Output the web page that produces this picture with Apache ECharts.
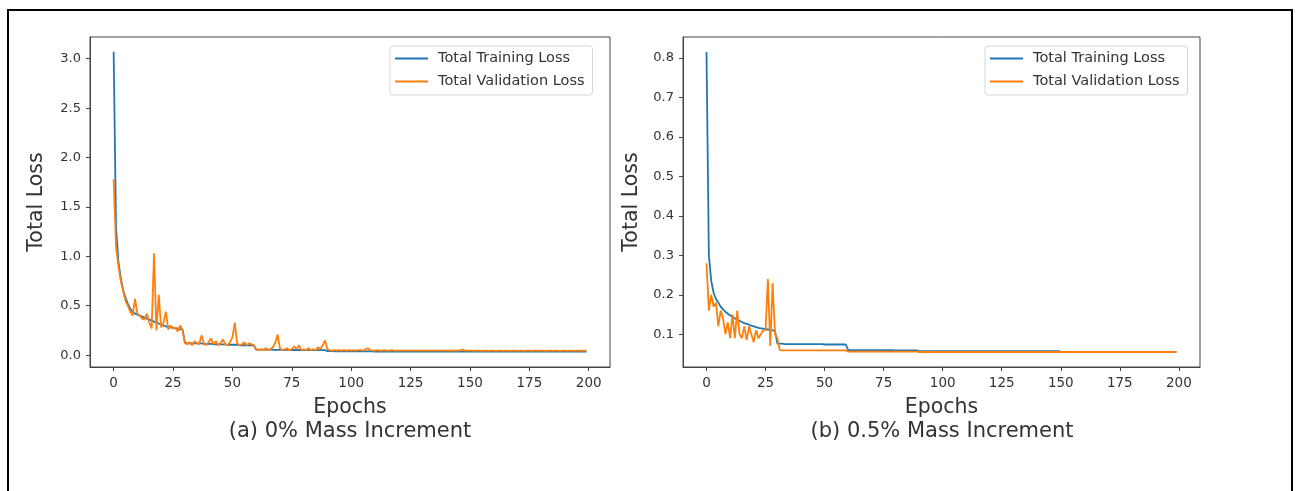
<!DOCTYPE html>
<html>
<head>
<meta charset="utf-8">
<script src="https://cdn.jsdelivr.net/npm/echarts@6.0.0/dist/echarts.min.js"></script>
<style>
  html, body { margin: 0; padding: 0; background: #fff; }
  #chart { width: 1301px; height: 491px; }
</style>
</head>
<body>
<div id="chart"></div>
<script>
// tick labels
const epochTicks = [0, 25, 50, 75, 100, 125, 150, 175, 200];
const lossTicksA = [0.0, 0.5, 1.0, 1.5, 2.0, 2.5, 3.0];
const lossTicksB = [0.1, 0.2, 0.3, 0.4, 0.5, 0.6, 0.7, 0.8];

// (a) 0% mass increment, one value per epoch 0..199
const trainLossA = [
  3.07, 1.30, 0.95, 0.78, 0.66, 0.58, 0.52, 0.47, 0.44, 0.42,
  0.41, 0.40, 0.39, 0.38, 0.37, 0.36, 0.35, 0.34, 0.33, 0.32,
  0.31, 0.30, 0.29, 0.29, 0.28, 0.28, 0.27, 0.27, 0.26, 0.26,
  0.13, 0.12, 0.12, 0.12, 0.12, 0.12, 0.12, 0.12, 0.115, 0.115,
  0.115, 0.115, 0.11, 0.11, 0.11, 0.11, 0.11, 0.11, 0.105, 0.105,
  0.105, 0.105, 0.105, 0.10, 0.10, 0.10, 0.10, 0.10, 0.10, 0.10,
  0.055, 0.055, 0.055, 0.055, 0.055, 0.055, 0.055, 0.054, 0.054, 0.054,
  0.054, 0.053, 0.053, 0.053, 0.053, 0.052, 0.052, 0.052, 0.052, 0.052,
  0.051, 0.051, 0.051, 0.051, 0.050, 0.050, 0.050, 0.050, 0.050, 0.050,
  0.040, 0.040, 0.040, 0.039, 0.039, 0.039, 0.039, 0.039, 0.038, 0.038,
  0.038, 0.038, 0.038, 0.038, 0.038, 0.038, 0.038, 0.038, 0.038, 0.038,
  0.037, 0.037, 0.037, 0.037, 0.037, 0.037, 0.037, 0.037, 0.037, 0.037,
  0.037, 0.037, 0.037, 0.037, 0.037, 0.037, 0.037, 0.037, 0.037, 0.037,
  0.036, 0.036, 0.036, 0.036, 0.036, 0.036, 0.036, 0.036, 0.036, 0.036,
  0.036, 0.036, 0.036, 0.036, 0.036, 0.036, 0.036, 0.036, 0.036, 0.036,
  0.036, 0.036, 0.036, 0.036, 0.036, 0.036, 0.036, 0.036, 0.036, 0.036,
  0.035, 0.035, 0.035, 0.035, 0.035, 0.035, 0.035, 0.035, 0.035, 0.035,
  0.035, 0.035, 0.035, 0.035, 0.035, 0.035, 0.035, 0.035, 0.035, 0.035,
  0.035, 0.035, 0.035, 0.035, 0.035, 0.035, 0.035, 0.035, 0.035, 0.035,
  0.035, 0.035, 0.035, 0.035, 0.035, 0.035, 0.035, 0.035, 0.035, 0.035
];
const valLossA = [
  1.78, 1.10, 0.90, 0.75, 0.65, 0.55, 0.50, 0.44, 0.40, 0.57,
  0.42, 0.40, 0.37, 0.36, 0.42, 0.33, 0.27, 1.03, 0.25, 0.61,
  0.28, 0.33, 0.44, 0.26, 0.30, 0.27, 0.28, 0.24, 0.30, 0.25,
  0.12, 0.11, 0.13, 0.10, 0.14, 0.12, 0.11, 0.20, 0.12, 0.10,
  0.13, 0.17, 0.11, 0.14, 0.10, 0.12, 0.16, 0.11, 0.10, 0.13,
  0.18, 0.33, 0.12, 0.10, 0.11, 0.13, 0.10, 0.12, 0.11, 0.10,
  0.06, 0.05, 0.06, 0.05, 0.07, 0.05, 0.06, 0.08, 0.12, 0.21,
  0.07, 0.05, 0.06, 0.07, 0.05, 0.06, 0.09, 0.06, 0.10, 0.05,
  0.06, 0.05, 0.07, 0.05, 0.06, 0.05, 0.08, 0.06, 0.10, 0.15,
  0.06, 0.05, 0.045, 0.05, 0.045, 0.05, 0.045, 0.05, 0.045, 0.05,
  0.045, 0.05, 0.045, 0.05, 0.05, 0.045, 0.06, 0.07, 0.05, 0.045,
  0.045, 0.05, 0.045, 0.045, 0.05, 0.045, 0.045, 0.05, 0.045, 0.045,
  0.045, 0.045, 0.046, 0.045, 0.045, 0.046, 0.045, 0.045, 0.046, 0.045,
  0.045, 0.046, 0.045, 0.045, 0.046, 0.045, 0.045, 0.046, 0.045, 0.045,
  0.045, 0.045, 0.046, 0.045, 0.046, 0.045, 0.05, 0.055, 0.046, 0.045,
  0.045, 0.045, 0.044, 0.045, 0.045, 0.044, 0.045, 0.045, 0.044, 0.045,
  0.045, 0.044, 0.045, 0.045, 0.044, 0.045, 0.045, 0.044, 0.045, 0.045,
  0.044, 0.045, 0.045, 0.044, 0.045, 0.045, 0.044, 0.045, 0.045, 0.044,
  0.045, 0.045, 0.044, 0.045, 0.045, 0.044, 0.045, 0.045, 0.044, 0.045,
  0.045, 0.044, 0.045, 0.045, 0.044, 0.045, 0.045, 0.044, 0.045, 0.045
];

// (b) 0.5% mass increment, one value per epoch 0..199
const trainLossB = [
  0.815, 0.30, 0.235, 0.205, 0.19, 0.18, 0.17, 0.163, 0.157, 0.152,
  0.148, 0.144, 0.14, 0.137, 0.134, 0.131, 0.128, 0.126, 0.124, 0.122,
  0.12, 0.118, 0.116, 0.115, 0.114, 0.113, 0.112, 0.111, 0.110, 0.109,
  0.076, 0.076, 0.076, 0.075, 0.075, 0.075, 0.075, 0.075, 0.075, 0.075,
  0.075, 0.075, 0.075, 0.075, 0.075, 0.075, 0.075, 0.075, 0.075, 0.075,
  0.074, 0.074, 0.074, 0.074, 0.074, 0.074, 0.074, 0.074, 0.074, 0.074,
  0.06, 0.06, 0.06, 0.06, 0.06, 0.06, 0.06, 0.06, 0.06, 0.06,
  0.06, 0.06, 0.06, 0.06, 0.06, 0.06, 0.06, 0.06, 0.06, 0.06,
  0.059, 0.059, 0.059, 0.059, 0.059, 0.059, 0.059, 0.059, 0.059, 0.059,
  0.057, 0.057, 0.057, 0.057, 0.057, 0.057, 0.057, 0.057, 0.057, 0.057,
  0.057, 0.057, 0.057, 0.057, 0.057, 0.057, 0.057, 0.057, 0.057, 0.057,
  0.057, 0.057, 0.057, 0.057, 0.057, 0.057, 0.057, 0.057, 0.057, 0.057,
  0.057, 0.057, 0.057, 0.057, 0.057, 0.057, 0.057, 0.057, 0.057, 0.057,
  0.057, 0.057, 0.057, 0.057, 0.057, 0.057, 0.057, 0.057, 0.057, 0.057,
  0.057, 0.057, 0.057, 0.057, 0.057, 0.057, 0.057, 0.057, 0.057, 0.057,
  0.0555, 0.0555, 0.0555, 0.0555, 0.0555, 0.0555, 0.0555, 0.0555, 0.0555, 0.0555,
  0.0555, 0.0555, 0.0555, 0.0555, 0.0555, 0.0555, 0.0555, 0.0555, 0.0555, 0.0555,
  0.0555, 0.0555, 0.0555, 0.0555, 0.0555, 0.0555, 0.0555, 0.0555, 0.0555, 0.0555,
  0.0555, 0.0555, 0.0555, 0.0555, 0.0555, 0.0555, 0.0555, 0.0555, 0.0555, 0.0555,
  0.0555, 0.0555, 0.0555, 0.0555, 0.0555, 0.0555, 0.0555, 0.0555, 0.0555, 0.0555
];
const valLossB = [
  0.28, 0.16, 0.20, 0.17, 0.18, 0.12, 0.16, 0.14, 0.10, 0.13,
  0.09, 0.15, 0.09, 0.16, 0.10, 0.09, 0.12, 0.085, 0.12, 0.10,
  0.08, 0.11, 0.09, 0.10, 0.11, 0.11, 0.24, 0.07, 0.23, 0.10,
  0.09, 0.06, 0.059, 0.059, 0.059, 0.059, 0.059, 0.059, 0.059, 0.059,
  0.059, 0.059, 0.059, 0.059, 0.059, 0.059, 0.059, 0.059, 0.059, 0.059,
  0.059, 0.059, 0.059, 0.059, 0.059, 0.059, 0.059, 0.059, 0.059, 0.059,
  0.056, 0.056, 0.056, 0.056, 0.056, 0.056, 0.056, 0.056, 0.056, 0.056,
  0.056, 0.056, 0.056, 0.056, 0.056, 0.056, 0.056, 0.056, 0.056, 0.056,
  0.056, 0.056, 0.056, 0.056, 0.056, 0.056, 0.056, 0.056, 0.056, 0.056,
  0.055, 0.055, 0.055, 0.055, 0.055, 0.055, 0.055, 0.055, 0.055, 0.055,
  0.055, 0.055, 0.055, 0.055, 0.055, 0.055, 0.055, 0.055, 0.055, 0.055,
  0.055, 0.055, 0.055, 0.055, 0.055, 0.055, 0.055, 0.055, 0.055, 0.055,
  0.055, 0.055, 0.055, 0.055, 0.055, 0.055, 0.055, 0.055, 0.055, 0.055,
  0.055, 0.055, 0.055, 0.055, 0.055, 0.055, 0.055, 0.055, 0.055, 0.055,
  0.055, 0.055, 0.055, 0.055, 0.055, 0.055, 0.055, 0.055, 0.055, 0.055,
  0.055, 0.055, 0.055, 0.055, 0.055, 0.055, 0.055, 0.055, 0.055, 0.055,
  0.055, 0.055, 0.055, 0.055, 0.055, 0.055, 0.055, 0.055, 0.055, 0.055,
  0.055, 0.055, 0.055, 0.055, 0.055, 0.055, 0.055, 0.055, 0.055, 0.055,
  0.055, 0.055, 0.055, 0.055, 0.055, 0.055, 0.055, 0.055, 0.055, 0.055,
  0.055, 0.055, 0.055, 0.055, 0.055, 0.055, 0.055, 0.055, 0.055, 0.055
];

const FONT = "DejaVu Sans";
const BLUE = "#1f77b4";
const ORANGE = "#ff7f0e";
const names = ["Total Training Loss", "Total Validation Loss"];

const toPairs = (arr) => arr.map((v, i) => [i, v]);

function makeX(gridIndex) {
  return {
    gridIndex: gridIndex,
    type: "value",
    min: -9.95,
    max: 208.95,
    name: "Epochs",
    nameLocation: "middle",
    nameGap: 30,
    nameTextStyle: { fontFamily: FONT, fontSize: 20.5, color: "#333" },
    axisLine: { show: true, onZero: false, lineStyle: { color: "#444", width: 1 } },
    axisTick: { show: true, customValues: epochTicks, length: 4, lineStyle: { color: "#444" } },
    axisLabel: { customValues: epochTicks, fontFamily: FONT, fontSize: 13.5, color: "#333", margin: 9 },
    splitLine: { show: false },
  };
}

function makeY(gridIndex, min, max, ticks, gap) {
  return {
    gridIndex: gridIndex,
    type: "value",
    min: min,
    max: max,
    name: "Total Loss",
    nameLocation: "middle",
    nameGap: gap,
    nameTextStyle: { fontFamily: FONT, fontSize: 20.5, color: "#333" },
    axisLine: { show: true, onZero: false, lineStyle: { color: "#444", width: 1 } },
    axisTick: { show: true, customValues: ticks, length: 4, lineStyle: { color: "#444" } },
    axisLabel: {
      customValues: ticks,
      fontFamily: FONT,
      fontSize: 13,
      color: "#333",
      margin: 9,
      formatter: (v) => v.toFixed(1),
    },
    splitLine: { show: false },
  };
}

function makeLegend(left) {
  return {
    data: names,
    orient: "vertical",
    left: left,
    top: 46,
    icon: "rect",
    itemWidth: 33,
    itemHeight: 2,
    itemGap: 8,
    padding: [5, 8, 6, 5],
    borderColor: "#d6d6d6",
    borderWidth: 1,
    borderRadius: 3,
    backgroundColor: "#fff",
    textStyle: { fontFamily: FONT, fontSize: 14.5, color: "#333", padding: [0, 0, 0, 5] },
    selectedMode: false,
  };
}

function makeLine(name, data, color, idx) {
  return {
    name: name,
    type: "line",
    xAxisIndex: idx,
    yAxisIndex: idx,
    data: toPairs(data),
    symbol: "none",
    showSymbol: false,
    lineStyle: { color: color, width: 1.8 },
    itemStyle: { color: color },
  };
}

const chart = echarts.init(document.getElementById("chart"));
chart.setOption({
  animation: false,
  backgroundColor: "#fff",
  grid: [
    { left: 90, top: 37, width: 520, height: 330, show: true, borderColor: "#444", borderWidth: 1 },
    { left: 683, top: 37, width: 517, height: 330, show: true, borderColor: "#444", borderWidth: 1 },
  ],
  xAxis: [makeX(0), makeX(1)],
  yAxis: [makeY(0, -0.12, 3.22, lossTicksA, 43), makeY(1, 0.017, 0.853, lossTicksB, 41)],
  legend: [makeLegend(390), makeLegend(985)],
  series: [
    makeLine(names[0], trainLossA, BLUE, 0),
    makeLine(names[1], valLossA, ORANGE, 0),
    makeLine(names[0], trainLossB, BLUE, 1),
    makeLine(names[1], valLossB, ORANGE, 1),
  ],
  graphic: [
    // outer frame
    {
      type: "rect",
      shape: { x: 8, y: 10, width: 1284, height: 500 },
      style: { fill: null, stroke: "#000", lineWidth: 2 },
      silent: true,
    },
    // captions below each panel
    {
      type: "text",
      x: 350,
      y: 432,
      style: { text: "(a) 0% Mass Increment", fontFamily: FONT, fontSize: 21, fill: "#333", align: "center", verticalAlign: "middle" },
    },
    {
      type: "text",
      x: 942,
      y: 432,
      style: { text: "(b) 0.5% Mass Increment", fontFamily: FONT, fontSize: 21, fill: "#333", align: "center", verticalAlign: "middle" },
    },
  ],
});
</script>
</body>
</html>
